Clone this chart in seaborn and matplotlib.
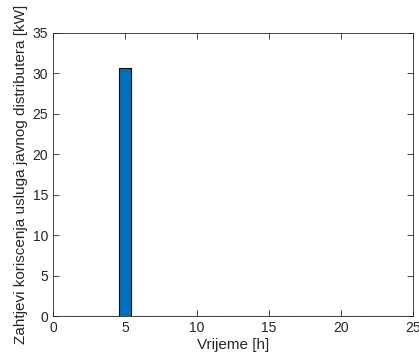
import numpy as np
import pandas as pd
import seaborn as sns
import matplotlib
matplotlib.use('Agg')
import matplotlib.pyplot as plt

sati = list(range(1, 25))
snaga = [0, 0, 0, 0, 30.7, 0.04, 0.04, 0.04, 0.04, 0, 0, 0.04,
         0, 0, 0, 0, 0, 0, 0.04, 0, 0, 0, 0, 0]

df = pd.DataFrame({'sat': sati, 'snaga': snaga})

sns.set_style('ticks')
plt.rcParams['font.family'] = ['Liberation Sans', 'DejaVu Sans']

fig = plt.figure(figsize=(4.19, 3.58), dpi=100)
ax = fig.add_axes([0.1265, 0.1173, 0.8592, 0.7907])

ax.bar(df['sat'], df['snaga'], width=0.8, color='#0072BD',
       edgecolor='black', linewidth=0.8)

ax.set_xlim(0, 25)
ax.set_ylim(0, 35)
ax.set_xticks([0, 5, 10, 15, 20, 25])
ax.set_yticks([0, 5, 10, 15, 20, 25, 30, 35])
ax.tick_params(direction='in', top=True, right=True, labelsize=10,
               colors='#262626', length=4, width=0.6)
for s in ax.spines.values():
    s.set_visible(True)
    s.set_color('#262626')
    s.set_linewidth(0.6)
ax.set_xlabel('Vrijeme [h]', fontsize=11, color='#262626', labelpad=2)
ax.set_ylabel('Zahtjevi koriscenja usluga javnog distributera [kW]',
              fontsize=11, color='#262626', labelpad=3)

fig.savefig('out.png', dpi=100)
